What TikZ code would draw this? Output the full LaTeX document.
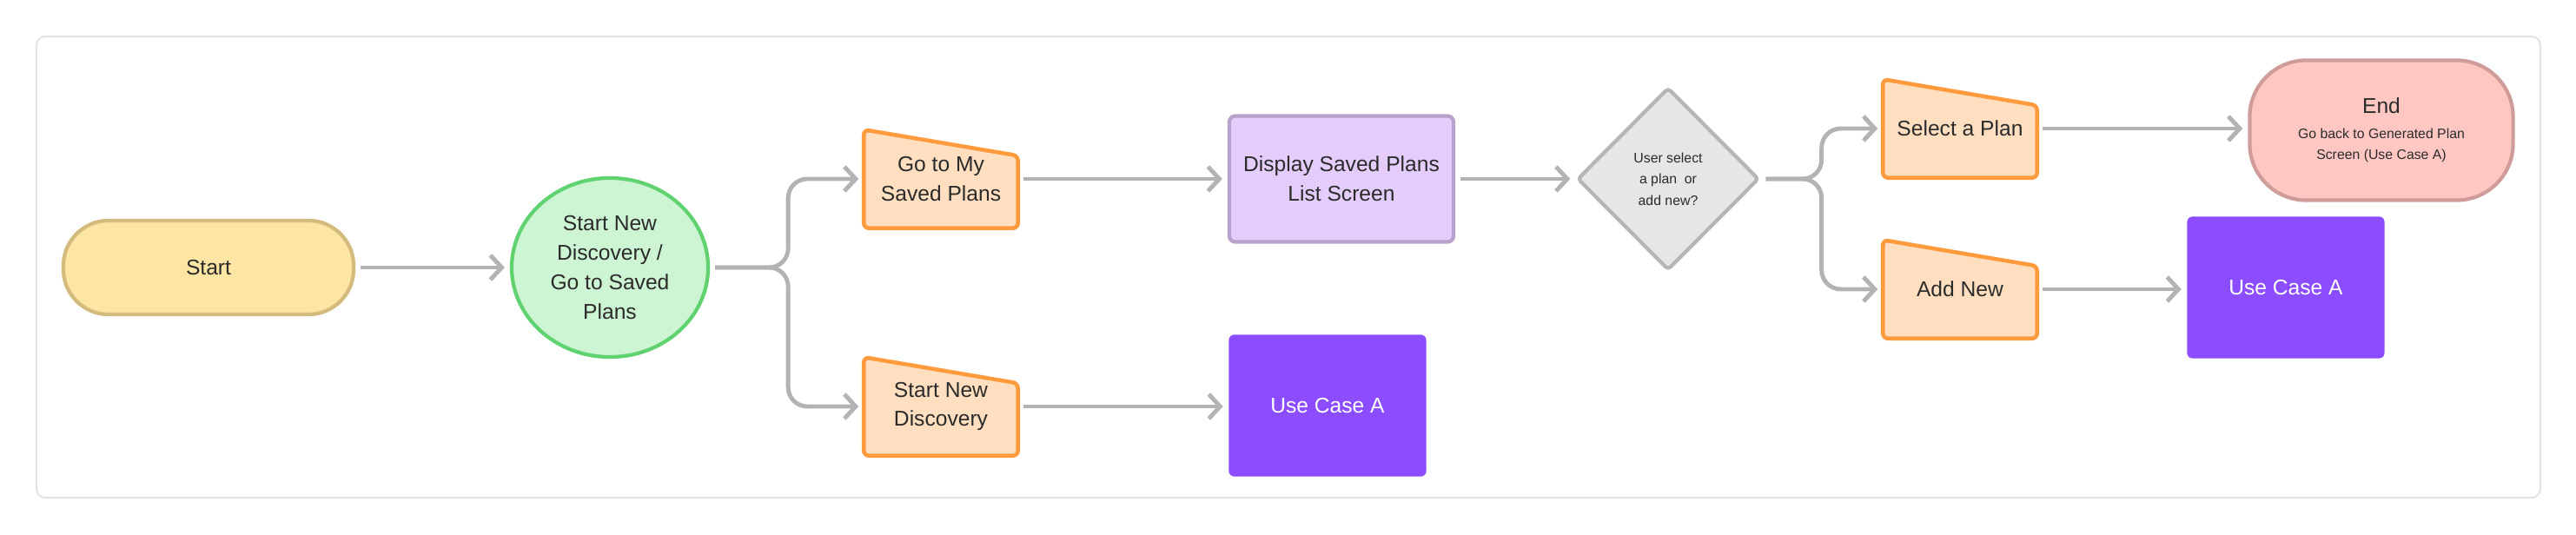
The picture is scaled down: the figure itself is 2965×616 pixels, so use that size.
\documentclass[tikz,border=0pt]{standalone}
\usepackage{fontspec}
\setmainfont{Liberation Sans}
\usetikzlibrary{arrows.meta, shapes.geometric}
\definecolor{startfill}{HTML}{FDE6A4}
\definecolor{startline}{HTML}{D2BB7C}
\definecolor{hubfill}{HTML}{CDF4D3}
\definecolor{hubline}{HTML}{60D270}
\definecolor{manfill}{HTML}{FFDFC0}
\definecolor{manline}{HTML}{FF9B3D}
\definecolor{scrfill}{HTML}{E4CDFB}
\definecolor{scrline}{HTML}{B8A2CB}
\definecolor{ucfill}{HTML}{8B4DFF}
\definecolor{decfill}{HTML}{E6E6E6}
\definecolor{decline}{HTML}{B5B5B5}
\definecolor{endfill}{HTML}{FFC7C2}
\definecolor{endline}{HTML}{CF9C9A}
\definecolor{linkgray}{HTML}{B3B3B3}
\definecolor{inkgray}{HTML}{2B2B2B}
\definecolor{framegray}{HTML}{E4E4E4}
\newcommand{\smalltext}{\fontsize{4.5}{7}\selectfont}
\pgfdeclarelayer{background}
\pgfsetlayers{background,main}

\begin{document}
\begin{tikzpicture}[x=0.01cm, y=-0.01cm,
  every node/.style={font=\fontsize{7}{9.6}\selectfont, text=inkgray, align=center, inner sep=0pt},
  startnode/.style={rectangle, rounded corners=0.52cm, draw=startline, fill=startfill, line width=1.2pt, minimum width=3.34cm, minimum height=1.08cm},
  hubnode/.style={ellipse, draw=hubline, fill=hubfill, line width=1.2pt, minimum width=2.26cm, minimum height=2.06cm},
  manualin/.style={rectangle, minimum width=1.76cm, minimum height=1.12cm},
  manualedge/.style={draw=manline, fill=manfill, line width=1.3pt, rounded corners=0.06cm},
  screen/.style={rectangle, rounded corners=0.07cm, draw=scrline, fill=scrfill, line width=1.2pt, minimum width=2.58cm, minimum height=1.45cm},
  usecase/.style={rectangle, rounded corners=0.06cm, fill=ucfill, text=white, minimum width=2.27cm, minimum height=1.63cm},
  decision/.style={diamond, rounded corners=0.04cm, draw=decline, fill=decfill, line width=1.2pt, minimum width=2.09cm, minimum height=2.10cm, font=\smalltext},
  endnode/.style={rectangle, rounded corners=0.65cm, draw=endline, fill=endfill, line width=1.2pt, minimum width=3.03cm, minimum height=1.61cm},
  conn/.style={draw=linkgray, line width=1.4pt, rounded corners=0.22cm, shorten >=0.06cm, shorten <=0.06cm, -{Straight Barb[length=1.3mm, width=2.8mm]}}]
  \useasboundingbox (0,0) rectangle (2965,616);
  \draw[framegray, line width=0.6pt, rounded corners=0.1cm] (42,42) rectangle (2924,573);

  % nodes
  \node[startnode] (start) at (240,308) {Start};
  \node[hubnode] (hub) at (702,308) {Start New\\Discovery /\\Go to Saved\\Plans};
  \node[manualin] (gosaved) at (1083,206) {Go to My\\Saved Plans};
  \node[manualin] (startnew) at (1083,468) {Start New\\Discovery};
  \node[screen] (display) at (1544,206) {Display Saved Plans\\List Screen};
  \node[usecase] (ucleft) at (1528,467) {Use Case A};
  \node[decision] (choice) at (1920,206) {User select\\a plan~~or\\add new?};
  \node[manualin] (selectplan) at (2256,148) {Select a Plan};
  \node[manualin] (addnew) at (2256,333) {Add New};
  \node[endnode] (finish) at (2741,150) {End\\[-1.5pt]{\smalltext Go back to Generated Plan}\\[-2.5pt]{\smalltext Screen (Use Case A)}};
  \node[usecase] (ucright) at (2631,331) {Use Case A};

  % manual input outlines behind the text
  \begin{pgfonlayer}{background}
    \foreach \n in {gosaved,startnew,selectplan,addnew}
      \draw[manualedge] (\n.south west) -- (\n.north west) -- ([yshift=-0.3cm]\n.north east) -- (\n.south east) -- cycle;
  \end{pgfonlayer}

  % connectors
  \draw[conn] (start.east) -- (start.east -| hub.west);
  \draw[conn] (hub.east) -- ++(90,0) |- (gosaved.west);
  \draw[conn] (hub.east) -- ++(90,0) |- (startnew.west);
  \draw[conn] (gosaved.east) -- (gosaved.east -| display.west);
  \draw[conn] (startnew.east) -- (startnew.east -| ucleft.west);
  \draw[conn] (display.east) -- (display.east -| choice.west);
  \draw[conn] (choice.east) -- ++(70,0) |- (selectplan.west);
  \draw[conn] (choice.east) -- ++(70,0) |- (addnew.west);
  \draw[conn] (selectplan.east) -- (selectplan.east -| finish.west);
  \draw[conn] (addnew.east) -- (addnew.east -| ucright.west);
\end{tikzpicture}
\end{document}
